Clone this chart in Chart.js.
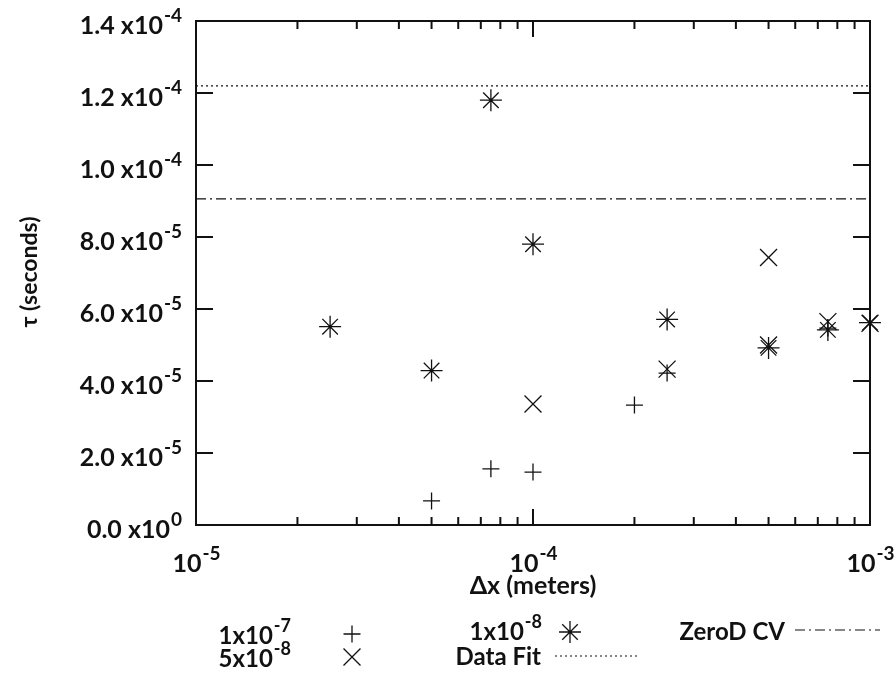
<!DOCTYPE html>
<html>
<head>
<meta charset="utf-8">
<script src="https://cdn.jsdelivr.net/npm/chart.js@4"></script>
<style>
  body { margin: 0; background: #fff; }
  #wrap { width: 895px; height: 673px; position: relative; }
</style>
</head>
<body>
<div id="wrap"><canvas id="tauChart"></canvas></div>
<script>
// ── Data ──────────────────────────────────────────────────────────────────

const plusX = [5e-5, 7.5e-5, 1e-4, 2e-4, 2.5e-4, 7.5e-4];
const plusY = [0.67e-5, 1.56e-5, 1.47e-5, 3.33e-5, 4.22e-5, 5.47e-5];

const crossX = [1e-4, 2.5e-4, 5e-4, 5e-4, 7.5e-4, 1e-3];
const crossY = [3.36e-5, 4.33e-5, 7.43e-5, 5.0e-5, 5.65e-5, 5.6e-5];

const starX = [2.5e-5, 5e-5, 7.5e-5, 1e-4, 2.5e-4, 5e-4, 7.5e-4, 1e-3];
const starY = [5.51e-5, 4.29e-5, 1.18e-4, 7.8e-5, 5.71e-5, 4.92e-5, 5.42e-5, 5.62e-5];

const fitY = 1.22e-4;
const zeroDY = 9.06e-5;

const xRange = [1e-5, 1e-3];
const yRange = [0, 1.4e-4];

const xTicks = [1e-5, 1e-4, 1e-3];
const xTickExp = ["-5", "-4", "-3"];
const xMinor = [2, 3, 4, 5, 6, 7, 8, 9];

const yTicks = [0, 2e-5, 4e-5, 6e-5, 8e-5, 1e-4, 1.2e-4, 1.4e-4];
const yTickBase = ["0.0 x10", "2.0 x10", "4.0 x10", "6.0 x10", "8.0 x10", "1.0 x10", "1.2 x10", "1.4 x10"];
const yTickExp = ["0", "-5", "-5", "-5", "-5", "-4", "-4", "-4"];

const seriesNames = [["1x10", "-7"], ["5x10", "-8"], ["1x10", "-8"]];

const INK = "#111";
const FONT = "Lato, 'Open Sans', sans-serif";

const pts = (xs, ys) => xs.map((x, i) => ({ x: x, y: ys[i] }));

// ── Frame, ticks, labels, legend (gnuplot look) ───────────────────────────

function sciText(ctx, base, exp, x, y, align, size) {
  const esize = Math.round(size * 0.74);
  ctx.font = "bold " + size + "px " + FONT;
  const wb = ctx.measureText(base).width;
  ctx.font = "bold " + esize + "px " + FONT;
  const we = ctx.measureText(exp).width;
  let left = x;
  if (align === "right") left = x - wb - we - 1;
  if (align === "center") left = x - (wb + we) / 2;
  ctx.textAlign = "left";
  ctx.textBaseline = "middle";
  ctx.font = "bold " + size + "px " + FONT;
  ctx.fillText(base, left, y);
  ctx.font = "bold " + esize + "px " + FONT;
  ctx.fillText(exp, left + wb + 1, y - size * 0.42);
}

const framePlugin = {
  id: "frame",
  afterDatasetsDraw(chart) {
    const { ctx, chartArea: a, scales: { x, y } } = chart;
    ctx.save();
    ctx.strokeStyle = INK;
    ctx.fillStyle = INK;

    // border
    ctx.lineWidth = 2;
    ctx.strokeRect(a.left, a.top, a.right - a.left, a.bottom - a.top);

    // x ticks, bottom and top
    ctx.beginPath();
    xTicks.forEach(v => {
      const px = x.getPixelForValue(v);
      ctx.moveTo(px, a.bottom); ctx.lineTo(px, a.bottom - 16);
      ctx.moveTo(px, a.top); ctx.lineTo(px, a.top + 16);
    });
    xTicks.slice(0, -1).forEach(dec => {
      xMinor.forEach(m => {
        const px = x.getPixelForValue(dec * m);
        ctx.moveTo(px, a.bottom); ctx.lineTo(px, a.bottom - 8);
        ctx.moveTo(px, a.top); ctx.lineTo(px, a.top + 8);
      });
    });
    // y ticks, left and right
    yTicks.forEach(v => {
      const py = y.getPixelForValue(v);
      ctx.moveTo(a.left, py); ctx.lineTo(a.left + 17, py);
      ctx.moveTo(a.right, py); ctx.lineTo(a.right - 17, py);
    });
    ctx.stroke();

    // tick labels
    xTicks.forEach((v, i) => sciText(ctx, "10", xTickExp[i], x.getPixelForValue(v), a.bottom + 39, "center", 25));
    yTicks.forEach((v, i) => sciText(ctx, yTickBase[i], yTickExp[i], 182, y.getPixelForValue(v) + 5, "right", 25));

    // axis titles
    ctx.textAlign = "center";
    ctx.textBaseline = "middle";
    ctx.font = "bold 25px " + FONT;
    ctx.fillText("\u0394x (meters)", (a.left + a.right) / 2, 586);
    ctx.save();
    ctx.font = "bold 23px " + FONT;
    ctx.translate(30, 272);
    ctx.rotate(-Math.PI / 2);
    ctx.fillText("\u03c4 (seconds)", 0, 0);
    ctx.restore();

    // legend
    const H = Chart.helpers;
    const mark = (style, r, px, py) =>
      H.drawPoint(ctx, { pointStyle: style, radius: r, rotation: 0, borderWidth: 1.3 }, px, py);
    ctx.lineWidth = 1.3;
    sciText(ctx, seriesNames[0][0], seriesNames[0][1], 291, 636, "right", 24);
    mark("cross", 8.5, 352, 634);
    sciText(ctx, seriesNames[1][0], seriesNames[1][1], 291, 659, "right", 24);
    mark("crossRot", 12, 352, 657);
    sciText(ctx, seriesNames[2][0], seriesNames[2][1], 542, 632, "right", 24);
    mark("star", 11, 570, 632);

    ctx.font = "bold 24px " + FONT;
    ctx.textAlign = "right";
    ctx.textBaseline = "middle";
    ctx.fillText("Data Fit", 541, 657);
    ctx.fillText("ZeroD CV", 785, 632);

    ctx.lineWidth = 1.2;
    ctx.setLineDash([2, 3]);
    ctx.beginPath(); ctx.moveTo(555, 656); ctx.lineTo(637, 656); ctx.stroke();
    ctx.setLineDash([10, 4, 2, 4]);
    ctx.beginPath(); ctx.moveTo(795, 630); ctx.lineTo(880, 630); ctx.stroke();
    ctx.restore();
  }
};

// ── Chart ─────────────────────────────────────────────────────────────────

new Chart(document.getElementById("tauChart"), {
  type: "scatter",
  data: {
    datasets: [
      {
        label: "1x10^-7", data: pts(plusX, plusY),
        pointStyle: "cross", pointRadius: 8.5, borderColor: INK, borderWidth: 1.3,
      },
      {
        label: "5x10^-8", data: pts(crossX, crossY),
        pointStyle: "crossRot", pointRadius: 12, borderColor: INK, borderWidth: 1.3,
      },
      {
        label: "1x10^-8", data: pts(starX, starY),
        pointStyle: "star", pointRadius: 11, borderColor: INK, borderWidth: 1.3,
      },
      {
        label: "Data Fit", type: "line", data: pts(xRange, [fitY, fitY]),
        borderColor: "#111", borderWidth: 1.2, borderDash: [2, 3], pointRadius: 0,
      },
      {
        label: "ZeroD CV", type: "line", data: pts(xRange, [zeroDY, zeroDY]),
        borderColor: "#111", borderWidth: 1.2, borderDash: [10, 4, 2, 4], pointRadius: 0,
      },
    ]
  },
  options: {
    responsive: true,
    maintainAspectRatio: false,
    animation: false,
    clip: false,
    layout: { padding: { left: 196, right: 25, top: 21, bottom: 148 } },
    plugins: { legend: { display: false }, tooltip: { enabled: false } },
    elements: { point: { hoverRadius: 0 } },
    scales: {
      x: { type: "logarithmic", min: xRange[0], max: xRange[1], display: false },
      y: { type: "linear", min: yRange[0], max: yRange[1], display: false }
    }
  },
  plugins: [framePlugin]
});
</script>
</body>
</html>
